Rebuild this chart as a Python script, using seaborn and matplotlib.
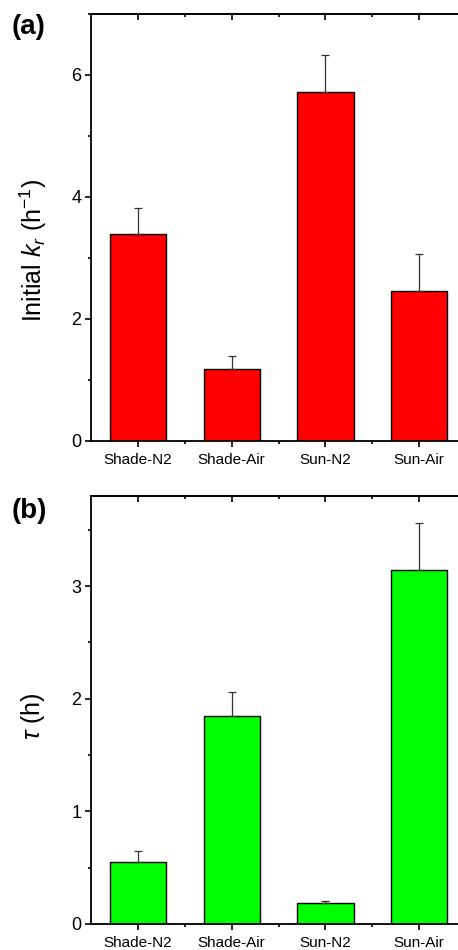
import numpy as np
import pandas as pd
import matplotlib
matplotlib.use("Agg")
import matplotlib.pyplot as plt
from matplotlib.ticker import MultipleLocator
import seaborn as sns

# data
samples = ["Shade-N2", "Shade-Air", "Sun-N2", "Sun-Air"]
kr_init = [3.39, 1.18, 5.72, 2.46]
kr_err = [0.43, 0.21, 0.61, 0.61]
tau_h = [0.55, 1.85, 0.19, 3.14]
tau_err = [0.10, 0.21, 0.01, 0.42]

sns.set_theme(style="ticks")
plt.rcParams["font.family"] = ["Liberation Sans", "DejaVu Sans"]
plt.rcParams["mathtext.fontset"] = "custom"
plt.rcParams["mathtext.rm"] = "Liberation Sans"
plt.rcParams["mathtext.it"] = "Liberation Sans:italic"
plt.rcParams["text.color"] = "black"
plt.rcParams["axes.labelcolor"] = "black"
plt.rcParams["xtick.color"] = "black"
plt.rcParams["ytick.color"] = "black"

fig = plt.figure(figsize=(4.58, 9.5), dpi=100)
ax_a = fig.add_axes([0.1987, 0.5358, 0.819, 0.4495])
ax_b = fig.add_axes([0.1987, 0.0274, 0.819, 0.4506])


def draw_panel(ax, vals, errs, color, ylim, major, minor, ylabel, label_xy,
               tag, tag_y):
    df = pd.DataFrame({"sample": samples, "val": vals})
    sns.barplot(data=df, x="sample", y="val", color=color, saturation=1,
                width=0.6, edgecolor="black", linewidth=1.0, ax=ax)
    pos = np.arange(len(samples))
    ax.errorbar(pos, vals, yerr=[np.zeros(len(errs)), errs], fmt="none",
                ecolor="#333333", elinewidth=0.9, capsize=3, capthick=0.9)
    ax.set_xlim(-0.5, 3.5)
    ax.set_ylim(*ylim)
    ax.yaxis.set_major_locator(MultipleLocator(major))
    ax.yaxis.set_minor_locator(MultipleLocator(minor))
    ax.set_xticks(pos, minor=False)
    ax.set_xticks(pos + 0.5, minor=True)
    for s in ax.spines.values():
        s.set_linewidth(1.3)
        s.set_color("black")
    ax.spines["right"].set_visible(False)
    ax.tick_params(axis="both", which="major", direction="out", length=4,
                   width=1.2, color="black")
    ax.tick_params(axis="both", which="minor", direction="out", length=2.5,
                   width=1.2, color="black")
    ax.tick_params(axis="y", labelsize=13, pad=3, labelcolor="black")
    ax.tick_params(axis="x", labelsize=11, pad=5, labelcolor="black")
    # inward ticks along the top edge
    top = ax.secondary_xaxis("top")
    top.set_xticks(pos)
    top.set_xticks(pos + 0.5, minor=True)
    top.tick_params(which="major", direction="in", length=4.5, width=1.2,
                    labeltop=False)
    top.tick_params(which="minor", direction="in", length=2.5, width=1.2)
    top.spines["top"].set_linewidth(1.3)
    ax.set_xlabel("")
    ax.set_ylabel(ylabel, fontsize=18, color="black")
    ax.yaxis.set_label_coords(*label_xy)
    fig.text(12 / 458, tag_y, tag, fontsize=20, fontweight="bold",
             ha="left", va="center", color="black")


draw_panel(ax_a, kr_init, kr_err, "#ff0000", (0, 7), 2, 1,
           r"Initial $k_r$ (h$^{-1}$)", (-0.112, 0.447), "(a)", 1 - 27 / 950)
draw_panel(ax_b, tau_h, tau_err, "#00ff00", (0, 3.8), 1, 0.5,
           r"$\tau$ (h)", (-0.118, 0.484), "(b)", 1 - 511 / 950)

fig.savefig("out.png", dpi=100)
